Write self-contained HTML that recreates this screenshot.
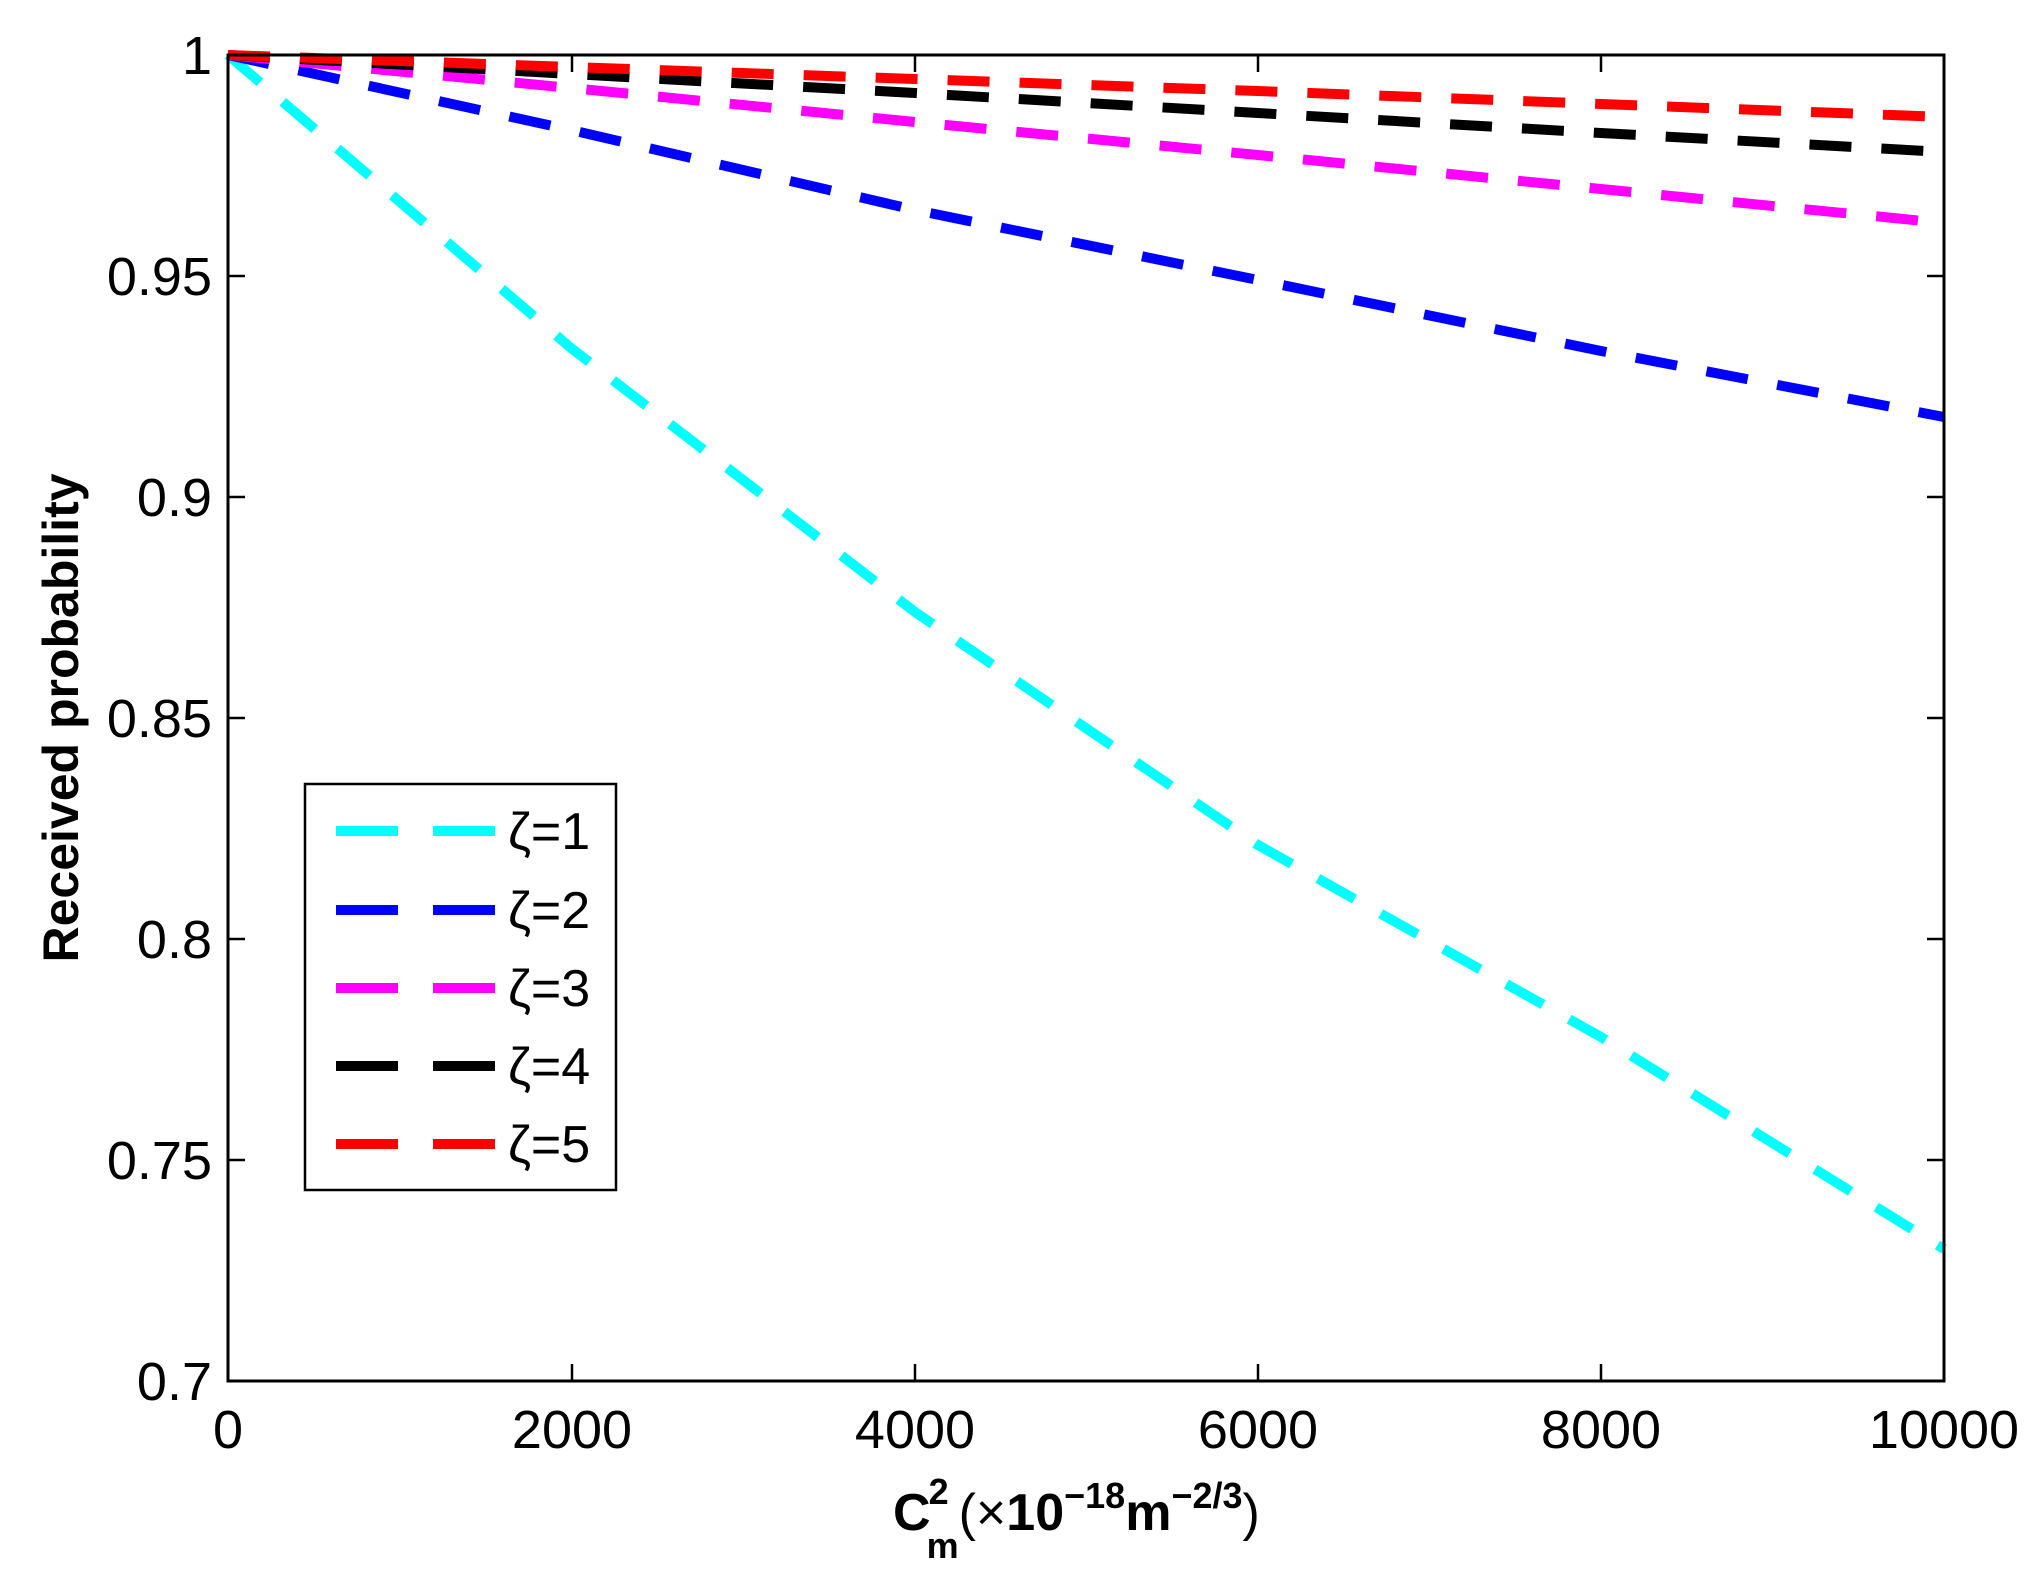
<!DOCTYPE html>
<html><head><style>html,body{margin:0;padding:0;background:#fff}</style></head><body>
<svg width="2043" height="1584" viewBox="0 0 2043 1584" xmlns="http://www.w3.org/2000/svg" font-family="Liberation Sans, Arial, sans-serif">
<rect width="2043" height="1584" fill="#fff"/>
<g fill="none" stroke-width="10" stroke-dasharray="42 30">
<polyline stroke="#00ffff" points="228,55 571,348 915,612 1258,845 1601,1037 1944,1249"/>
<polyline stroke="#0000ff" points="228,55 571,130 915,210 1258,280 1601,351 1944,417"/>
<polyline stroke="#ff00ff" points="228,55 571,88 915,122 1258,155 1601,189 1944,223"/>
<polyline stroke="#000000" points="228,55 571,74 915,93 1258,113 1601,133 1944,152"/>
<polyline stroke="#ff0000" points="228,55 571,67 915,79 1258,91 1601,104 1944,117"/>
</g>
<rect x="228" y="55" width="1716" height="1326" fill="none" stroke="#000" stroke-width="3"/>
<g stroke="#000" stroke-width="2.5">
<line x1="572" y1="1381" x2="572" y2="1364"/><line x1="572" y1="55" x2="572" y2="72"/>
<line x1="915" y1="1381" x2="915" y2="1364"/><line x1="915" y1="55" x2="915" y2="72"/>
<line x1="1258" y1="1381" x2="1258" y2="1364"/><line x1="1258" y1="55" x2="1258" y2="72"/>
<line x1="1601" y1="1381" x2="1601" y2="1364"/><line x1="1601" y1="55" x2="1601" y2="72"/>
<line x1="228" y1="276" x2="245" y2="276"/><line x1="1944" y1="276" x2="1927" y2="276"/>
<line x1="228" y1="497" x2="245" y2="497"/><line x1="1944" y1="497" x2="1927" y2="497"/>
<line x1="228" y1="718" x2="245" y2="718"/><line x1="1944" y1="718" x2="1927" y2="718"/>
<line x1="228" y1="939" x2="245" y2="939"/><line x1="1944" y1="939" x2="1927" y2="939"/>
<line x1="228" y1="1160" x2="245" y2="1160"/><line x1="1944" y1="1160" x2="1927" y2="1160"/>
</g>
<g font-size="54" text-anchor="middle">
<text x="228" y="1448">0</text><text x="572" y="1448">2000</text><text x="915" y="1448">4000</text>
<text x="1258" y="1448">6000</text><text x="1601" y="1448">8000</text><text x="1944" y="1448">10000</text>
</g>
<g font-size="54" text-anchor="end">
<text x="212" y="74">1</text><text x="212" y="295">0.95</text><text x="212" y="516">0.9</text>
<text x="212" y="737">0.85</text><text x="212" y="958">0.8</text><text x="212" y="1179">0.75</text><text x="212" y="1400">0.7</text>
</g>
<text transform="translate(78,718) rotate(-90)" font-size="50" font-weight="bold" text-anchor="middle">Received probability</text>
<text x="893" y="1530" font-size="52" font-weight="bold">C<tspan font-size="36" dx="-2" dy="-26">2</tspan><tspan font-size="36" dx="-22" dy="54">m</tspan><tspan dy="-28" font-weight="normal">(×</tspan>10<tspan font-size="36" dy="-22">−18</tspan><tspan dy="22">m</tspan><tspan font-size="36" dy="-22">−2/3</tspan><tspan dy="22" font-weight="normal">)</tspan></text>
<rect x="305" y="784" width="311" height="406" fill="#fff" stroke="#000" stroke-width="2.5"/>
<g stroke-width="10" stroke-dasharray="62 35">
<line x1="336" y1="831" x2="495" y2="831" stroke="#00ffff"/>
<line x1="336" y1="910" x2="495" y2="910" stroke="#0000ff"/>
<line x1="336" y1="988" x2="495" y2="988" stroke="#ff00ff"/>
<line x1="336" y1="1066" x2="495" y2="1066" stroke="#000"/>
<line x1="336" y1="1144" x2="495" y2="1144" stroke="#ff0000"/>
</g>
<g font-size="52">
<text x="508" y="849">ζ=1</text><text x="508" y="928">ζ=2</text><text x="508" y="1006">ζ=3</text>
<text x="508" y="1084">ζ=4</text><text x="508" y="1162">ζ=5</text>
</g>
</svg>
</body></html>
